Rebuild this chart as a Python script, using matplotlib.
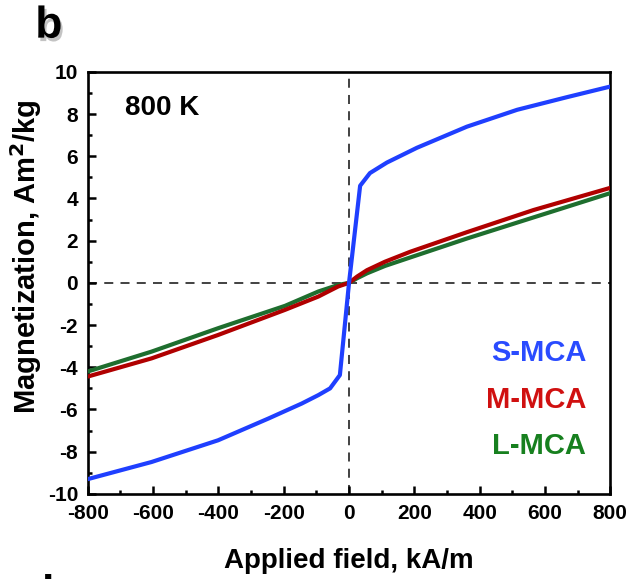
"""Magnetization curves at 800 K for S-, M- and L-MCA."""

import matplotlib
matplotlib.use("Agg")
import matplotlib.pyplot as plt
import matplotlib.patheffects as pe
from matplotlib.ticker import MultipleLocator

plt.rcParams["font.family"] = ["Liberation Sans", "DejaVu Sans"]
plt.rcParams["font.weight"] = "bold"
plt.rcParams["axes.unicode_minus"] = False

# applied field (kA/m) and magnetization (Am^2/kg)
field_s = [-800, -605, -401, -247, -145, -94, -58, -28, 0, 34, 64, 116, 208, 361, 515, 668, 800]
mag_s = [-9.3, -8.49, -7.46, -6.43, -5.72, -5.32, -5.0, -4.37, 0.0, 4.6, 5.2, 5.7, 6.4, 7.4, 8.2, 8.8, 9.3]

field_m = [-800, -605, -401, -196, -94, -33, 0, 25, 55, 110, 187, 361, 565, 800]
mag_m = [-4.44, -3.58, -2.47, -1.28, -0.65, -0.17, 0.0, 0.3, 0.6, 1.0, 1.47, 2.4, 3.45, 4.5]

field_l = [-800, -605, -401, -196, -94, -33, 0, 25, 55, 110, 187, 361, 565, 800]
mag_l = [-4.2, -3.26, -2.15, -1.09, -0.41, -0.1, 0.0, 0.22, 0.45, 0.8, 1.2, 2.1, 3.1, 4.25]

labels = ["S-MCA", "M-MCA", "L-MCA"]
line_colors = ["#1f3fff", "#b00000", "#1e6e2e"]
text_colors = ["#2a4bff", "#d01010", "#17801f"]

fig = plt.figure(figsize=(6.41, 5.79), dpi=100)
ax = fig.add_axes([0.137, 0.147, 0.815, 0.729])

ax.axhline(0, color="#333333", lw=1.3, ls=(0, (5, 4)), zorder=1)
ax.axvline(0, color="#333333", lw=1.3, ls=(0, (5, 4)), zorder=1)

series = [(field_s, mag_s), (field_m, mag_m), (field_l, mag_l)]
for (h, m), c in zip(series[::-1], line_colors[::-1]):
    ax.plot(h, m, color=c, lw=3.0, solid_joinstyle="round", zorder=3)

ax.set_xlim(-800, 800)
ax.set_ylim(-10, 10)
ax.xaxis.set_major_locator(MultipleLocator(200))
ax.xaxis.set_minor_locator(MultipleLocator(100))
ax.yaxis.set_major_locator(MultipleLocator(2))
ax.yaxis.set_minor_locator(MultipleLocator(1))
ax.tick_params(which="both", direction="in", top=False, right=False, width=1.8)
ax.tick_params(which="major", length=6, labelsize=15, pad=7)
ax.tick_params(which="minor", length=3)
for lab in ax.get_xticklabels() + ax.get_yticklabels():
    lab.set_fontweight("bold")
for sp in ax.spines.values():
    sp.set_linewidth(1.9)

ax.set_xlabel("Applied field, kA/m", fontsize=20, fontweight="bold", labelpad=18)
ax.set_ylabel("Magnetization, Am$^\\mathbf{2}$/kg", fontsize=21, fontweight="bold")
ax.yaxis.set_label_coords(-0.084, 0.562)

ax.text(0.071, 0.915, "800 K", transform=ax.transAxes, fontsize=20,
        fontweight="bold", ha="left", va="center")

for lab, c, y in zip(labels, text_colors, [0.334, 0.223, 0.114]):
    ax.text(0.954, y, lab, transform=ax.transAxes, fontsize=21,
            fontweight="bold", color=c, ha="right", va="center")

shadow = [pe.withSimplePatchShadow(offset=(1.5, -2.5), shadow_rgbFace="#888888", alpha=0.5)]
fig.text(0.055, 0.935, "b", fontsize=32, fontweight="bold", ha="left",
         va="baseline", path_effects=shadow)
fig.text(0.064, -0.047, "b", fontsize=32, fontweight="bold", ha="left",
         va="baseline")

fig.savefig("out.png", dpi=100)
